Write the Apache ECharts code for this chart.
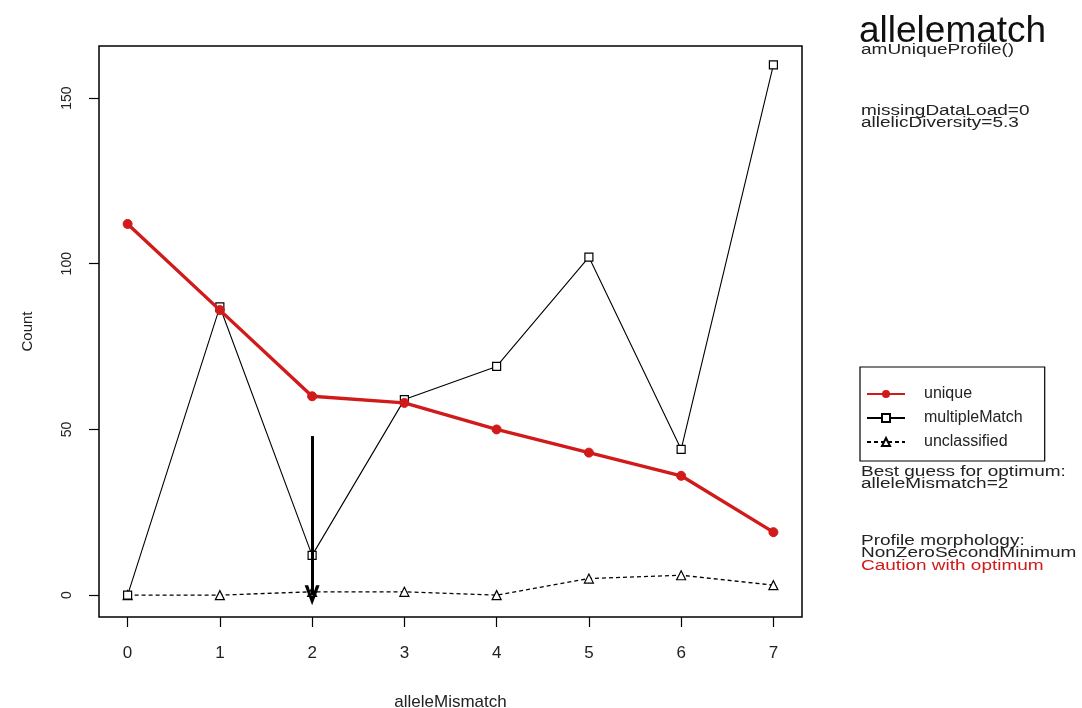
<!DOCTYPE html>
<html>
<head>
<meta charset="utf-8">
<script src="https://cdn.jsdelivr.net/npm/echarts@6/dist/echarts.min.js"></script>
<style>
  html, body { margin: 0; padding: 0; background: #fff; }
  #chart { width: 1082px; height: 708px; }
</style>
</head>
<body>
<div id="chart"></div>
<script>
// data
const mismatch = [0, 1, 2, 3, 4, 5, 6, 7];
const unique = [112, 86, 60, 58, 50, 43, 36, 19];
const multipleMatch = [0, 87, 12, 59, 69, 102, 44, 160];
const unclassified = [0, 0, 1, 1, 0, 5, 6, 3];
const yTicks = [0, 50, 100, 150];
const bestGuess = 2;
const arrowTop = 48;

const font = "Liberation Sans, Arial, sans-serif";
const red = "#d11a1a";

function pairs(vals) {
  return vals.map((v, i) => [mismatch[i], v]);
}

// side text, squeezed vertically like the original png
function sideText(txt, top, color) {
  return {
    type: "text",
    x: 861,
    y: top,
    scaleY: 0.8,
    style: {
      text: txt,
      font: "19px " + font,
      lineHeight: 16,
      fill: color || "#222",
    },
  };
}

const chartDom = document.getElementById("chart");
const myChart = echarts.init(chartDom);

const option = {
  animation: false,
  backgroundColor: "#fff",
  grid: {
    left: 99,
    right: 280,
    top: 46,
    bottom: 91,
    outerBoundsMode: "none",
    containLabel: false,
    show: true,
    borderColor: "#000",
    borderWidth: 1.5,
  },
  xAxis: {
    type: "value",
    min: -0.31,
    max: 7.31,
    name: "alleleMismatch",
    nameLocation: "middle",
    nameGap: 77,
    nameTextStyle: { fontFamily: font, fontSize: 17, color: "#222" },
    axisLine: { show: false, onZero: false },
    splitLine: { show: false },
    axisTick: {
      show: true,
      length: 10,
      customValues: mismatch,
      lineStyle: { color: "#000", width: 1.2 },
    },
    axisLabel: {
      customValues: mismatch,
      margin: 28,
      fontFamily: font,
      fontSize: 17,
      color: "#222",
    },
  },
  yAxis: {
    type: "value",
    min: -6.6,
    max: 165.7,
    name: "Count",
    nameLocation: "middle",
    nameGap: 64,
    nameRotate: 90,
    nameTextStyle: { fontFamily: font, fontSize: 15, color: "#222" },
    axisLine: { show: false, onZero: false },
    splitLine: { show: false },
    axisTick: {
      show: true,
      length: 10,
      customValues: yTicks,
      lineStyle: { color: "#000", width: 1.2 },
    },
    axisLabel: {
      customValues: yTicks,
      rotate: 90,
      margin: 32,
      fontFamily: font,
      fontSize: 14,
      color: "#222",
      verticalAlign: "middle",
    },
  },
  legend: {
    orient: "vertical",
    left: 860,
    top: 367,
    padding: [19, 22, 11, 6],
    itemGap: 8,
    itemWidth: 38,
    itemHeight: 10,
    borderColor: "#000",
    borderWidth: 1.2,
    borderRadius: 0,
    textStyle: { fontFamily: font, fontSize: 16, color: "#222", padding: [0, 0, 0, 14] },
    data: ["unique", "multipleMatch", "unclassified"],
  },
  graphic: [
    {
      type: "text",
      x: 859,
      y: 13,
      style: { text: "allelematch", font: "37px " + font, fill: "#111" },
    },
    sideText("amUniqueProfile()", 43),
    sideText("missingDataLoad=0\nallelicDiversity=5.3", 104),
    sideText("Best guess for optimum:\nalleleMismatch=2", 465),
    sideText("Profile morphology:\nNonZeroSecondMinimum", 534),
    sideText("Caution with optimum", 559, red),
  ],
  series: [
    {
      name: "unclassified",
      type: "line",
      data: pairs(unclassified),
      symbol: "triangle",
      symbolSize: 9,
      itemStyle: { color: "#fff", borderColor: "#000", borderWidth: 1.2 },
      lineStyle: { color: "#000", width: 1.3, type: [4, 3] },
      z: 2,
    },
    {
      name: "multipleMatch",
      type: "line",
      data: pairs(multipleMatch),
      symbol: "rect",
      symbolSize: 8,
      itemStyle: { color: "#fff", borderColor: "#000", borderWidth: 1.2 },
      lineStyle: { color: "#000", width: 1.1 },
      z: 3,
    },
    {
      name: "unique",
      type: "line",
      data: pairs(unique),
      symbol: "circle",
      symbolSize: 9,
      itemStyle: { color: red, borderColor: red },
      lineStyle: { color: red, width: 3.4 },
      z: 4,
      markLine: {
        silent: true,
        symbol: ["none", "path://M5,0 L10,15 L7.6,15 L5,6 L2.4,15 L0,15 Z"],
        symbolSize: [15, 20],
        label: { show: false },
        lineStyle: { color: "#000", width: 3, type: "solid" },
        data: [[{ coord: [bestGuess, arrowTop] }, { coord: [bestGuess, 0] }]],
      },
    },
  ],
};

option && myChart.setOption(option, true);
</script>
</body>
</html>
